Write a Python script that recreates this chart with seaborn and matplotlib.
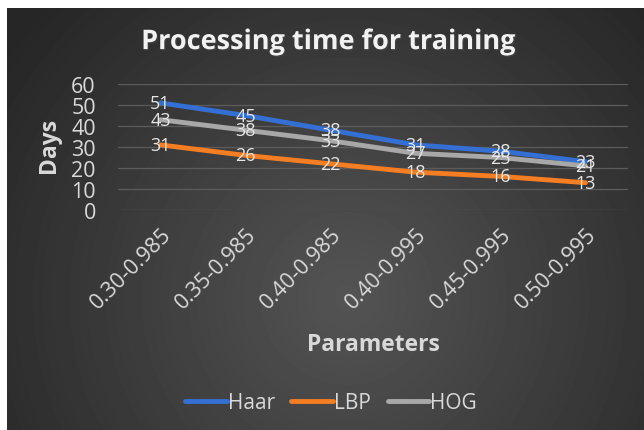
import numpy as np
import pandas as pd
import matplotlib
matplotlib.use("Agg")
import matplotlib.pyplot as plt
import matplotlib.patheffects as pe
import seaborn as sns

# chart data
params = ["0.30-0.985", "0.35-0.985", "0.40-0.985", "0.40-0.995", "0.45-0.995", "0.50-0.995"]
haar = [51, 45, 38, 31, 28, 23]
lbp = [31, 26, 22, 18, 16, 13]
hog = [43, 38, 33, 27, 25, 21]
series_names = ["Haar", "LBP", "HOG"]
colors = {"Haar": "#3470d4", "LBP": "#f57d22", "HOG": "#a8a8a8"}

df = pd.DataFrame({"Parameters": params * 3,
                   "Days": haar + lbp + hog,
                   "Method": np.repeat(series_names, len(params))})
df["pos"] = np.tile(np.arange(len(params)), 3)

sns.set_theme(style="dark")
plt.rcParams["font.family"] = ["Open Sans", "DejaVu Sans"]

fig = plt.figure(figsize=(6.44, 4.31), dpi=100)
fig.patch.set_facecolor("white")

# radial gradient background (Excel dark style)
bg = fig.add_axes([7 / 644, 0, 637 / 644, 422 / 431])
yy, xx = np.mgrid[0:422, 0:637]
r = np.sqrt((xx - 340) ** 2 + (yy - 290) ** 2)
r = np.clip(r / 420, 0, 1)
shade = 0.33 - 0.18 * r
bg.imshow(shade, cmap="gray", vmin=0, vmax=1, aspect="auto", interpolation="bilinear")
bg.axis("off")

ax = fig.add_axes([118 / 644, 1 - 211 / 431, 510 / 644, 126 / 431])
ax.set_facecolor("none")

sns.lineplot(data=df, x="pos", y="Days", hue="Method", palette=colors,
             linewidth=3.5, ax=ax, legend=False, sort=False)
for ln in ax.lines:
    ln.set_solid_capstyle("round")

for name, vals in zip(series_names, [haar, lbp, hog]):
    for i, v in enumerate(vals):
        ax.text(i, v, str(v), ha="center", va="center", fontsize=13,
                color="#e6e6e6")

ax.set_xlabel("")
ax.set_ylabel("")
ax.set_xlim(-0.5, len(params) - 0.5)
ax.set_ylim(0, 60)
ax.set_yticks(range(0, 61, 10))
ax.yaxis.grid(True, color="#5c5c5c", linewidth=0.9)
ax.xaxis.grid(False)
for s in ax.spines.values():
    s.set_visible(False)
ax.set_xticks(range(len(params)))
ax.set_xticklabels(params, rotation=45, ha="right", rotation_mode="anchor",
                   fontsize=15.5, color="#d9d9d9")
ax.tick_params(axis="x", pad=10, length=0)
ax.tick_params(axis="y", pad=16, length=0, labelsize=15.5, labelcolor="#d9d9d9")

fig.text(0.51, 0.9, "Processing time for training", ha="center", va="center",
         fontsize=19.5, fontweight="bold", color="#f2f2f2",
         path_effects=[pe.withSimplePatchShadow(offset=(1, -1), alpha=0.5)])
fig.text(49 / 644, 1 - 145 / 431, "Days", rotation=90, ha="center", va="center",
         fontsize=16.5, fontweight="bold", color="#d9d9d9")
fig.text(373 / 644, 1 - 345 / 431, "Parameters", ha="center", va="center",
         fontsize=16.5, fontweight="bold", color="#d9d9d9")

handles = [plt.Line2D([], [], color=colors[n], linewidth=3.5, solid_capstyle="round")
           for n in series_names]
fig.legend(handles, series_names, loc="center", bbox_to_anchor=(331 / 644, 1 - 404 / 431),
           ncol=3, frameon=False, fontsize=15, labelcolor="#d9d9d9",
           handlelength=2.0, handletextpad=0.05, columnspacing=0.8)

fig.savefig("out.png", dpi=100)
